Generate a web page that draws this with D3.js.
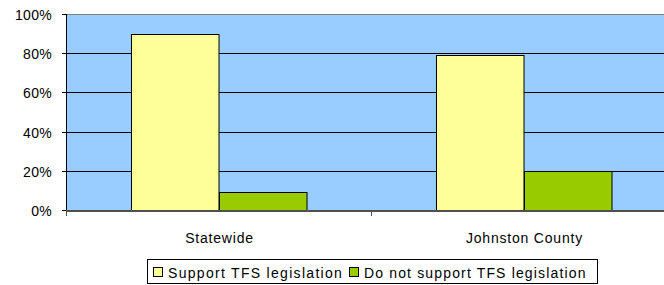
<!DOCTYPE html>
<html lang="en">
<head>
  <meta charset="utf-8" />
  <style>
    body { margin: 0; background: #fff; }
    text { font-family: Arial, "Liberation Sans", sans-serif; font-size: 14px; fill: #000; }
  </style>
</head>
<body>
<svg width="664" height="285"></svg>
<script src="https://d3js.org/d3.v7.min.js"></script>
<script>
var categories = ["Statewide", "Johnston County"],
    seriesNames = ["Support TFS legislation", "Do not support TFS legislation"],
    support = [0.90, 0.79],
    notSupport = [0.09, 0.20],
    yTicks = [0, 0.2, 0.4, 0.6, 0.8, 1],
    colors = ["#ffff99", "#99cc00"];

var svg = d3.select("svg"),
    plotLeft = 67, plotRight = 677, plotTop = 15, plotBottom = 211;

var x = d3.scaleBand()
    .domain(categories)
    .range([plotLeft, plotRight])
    .paddingInner(0.426)
    .paddingOuter(0.213);

var x1 = d3.scaleBand()
    .domain([0, 1])
    .range([0, x.bandwidth()]);

var y = d3.scaleLinear().domain([0, 1]).range([plotBottom, plotTop]);

function crisp(v) { return Math.round(v) - 0.5; }

// plot area
svg.append("rect")
    .attr("x", plotLeft)
    .attr("y", plotTop)
    .attr("width", plotRight - plotLeft)
    .attr("height", plotBottom - plotTop)
    .attr("fill", "#99ccff");

// gridlines
svg.append("g")
  .selectAll("line")
  .data(yTicks.filter(function(d) { return d > 0 && d < 1; }))
  .enter().append("line")
    .attr("x1", plotLeft)
    .attr("x2", plotRight)
    .attr("y1", function(d) { return crisp(y(d)); })
    .attr("y2", function(d) { return crisp(y(d)); })
    .attr("stroke", "#000");

// top border
svg.append("line")
    .attr("x1", plotLeft).attr("x2", plotRight)
    .attr("y1", crisp(y(1))).attr("y2", crisp(y(1)))
    .attr("stroke", "#808080");

// bars
var rows = categories.map(function(c, i) { return [support[i], notSupport[i]]; });

svg.append("g")
  .selectAll("g")
  .data(rows)
  .enter().append("g")
    .attr("transform", function(d, i) { return "translate(" + x(categories[i]) + ",0)"; })
  .selectAll("rect")
  .data(function(d) { return d; })
  .enter().append("rect")
    .attr("x", function(d, j) { return Math.round(x1(j)) - 0.5; })
    .attr("y", function(d) { return Math.round(y(d)) - 0.5; })
    .attr("width", x1.bandwidth())
    .attr("height", function(d) { return Math.round(plotBottom - y(d)); })
    .attr("fill", function(d, j) { return colors[j]; })
    .attr("stroke", "#000")
    .attr("stroke-width", 1);

// y axis
var yAxis = svg.append("g");
yAxis.selectAll("line.tick")
  .data(yTicks)
  .enter().append("line")
    .attr("x1", plotLeft - 5).attr("x2", plotLeft)
    .attr("y1", function(d) { return crisp(y(d)); })
    .attr("y2", function(d) { return crisp(y(d)); })
    .attr("stroke", "#000");
yAxis.append("line")
    .attr("x1", plotLeft - 0.5).attr("x2", plotLeft - 0.5)
    .attr("y1", plotTop - 1).attr("y2", plotBottom + 1)
    .attr("stroke", "#000");
yAxis.selectAll("text")
  .data(yTicks)
  .enter().append("text")
    .attr("x", 52)
    .attr("y", function(d) { return y(d) + 5; })
    .attr("text-anchor", "end")
    .style("letter-spacing", "0.3px")
    .text(function(d) { return d3.format(".0%")(d); });

// x axis
svg.append("line")
    .attr("x1", plotLeft - 1).attr("x2", plotRight)
    .attr("y1", plotBottom).attr("y2", plotBottom)
    .attr("stroke", "#505050")
    .attr("stroke-width", 2);

var boundaries = [plotLeft, (x(categories[0]) + x.bandwidth() + x(categories[1])) / 2, plotRight];
svg.selectAll(".xtick")
  .data(boundaries)
  .enter().append("line")
    .attr("x1", function(d) { return crisp(d); })
    .attr("x2", function(d) { return crisp(d); })
    .attr("y1", plotBottom).attr("y2", plotBottom + 5)
    .attr("stroke", "#505050");

svg.selectAll(".xlabel")
  .data(categories)
  .enter().append("text")
    .attr("x", function(d) { return x(d) + x.bandwidth() / 2; })
    .attr("y", 243)
    .attr("text-anchor", "middle")
    .style("letter-spacing", "0.8px")
    .text(function(d) { return d; });

// legend
var legend = svg.append("g");
legend.append("rect")
    .attr("x", 147.5).attr("y", 259.5)
    .attr("width", 450).attr("height", 24)
    .attr("fill", "#fff")
    .attr("stroke", "#000");

var legendX = [153.5, 349.5];
legend.selectAll(".sw")
  .data(seriesNames)
  .enter().append("rect")
    .attr("x", function(d, i) { return legendX[i]; })
    .attr("y", 267.5)
    .attr("width", 9).attr("height", 9)
    .attr("fill", function(d, i) { return colors[i]; })
    .attr("stroke", "#000");

legend.selectAll(".lt")
  .data(seriesNames)
  .enter().append("text")
    .attr("x", function(d, i) { return legendX[i] + 14.5; })
    .attr("y", 278)
    .style("letter-spacing", function(d, i) { return i ? "1.15px" : "1.3px"; })
    .text(function(d) { return d; });
</script>
</body>
</html>
